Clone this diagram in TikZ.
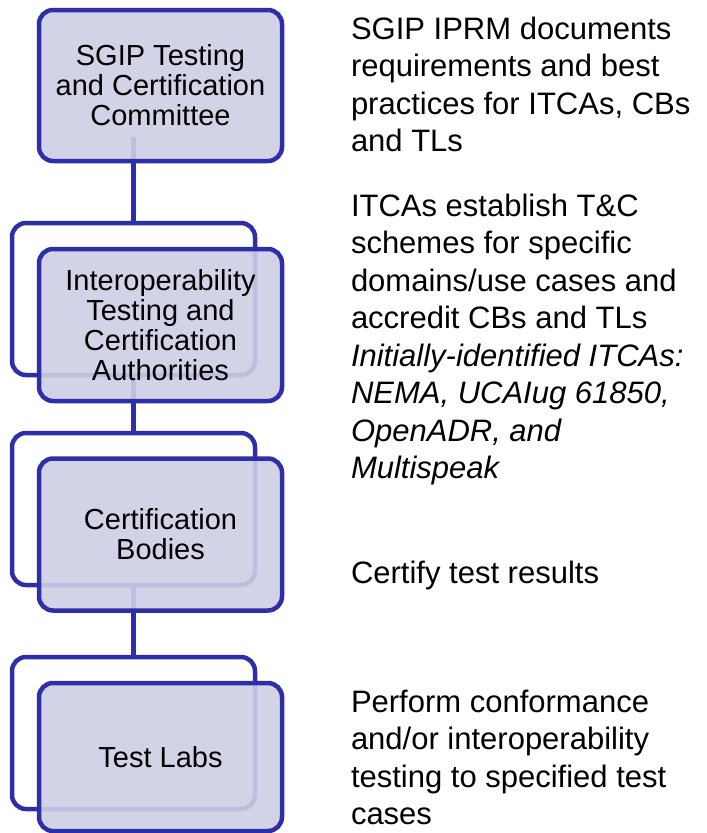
\documentclass[tikz,border=0pt]{standalone}
\usepackage{fontspec}
\setmainfont{Liberation Sans}
\definecolor{boxblue}{RGB}{46,46,168}
\definecolor{boxfill}{RGB}{206,206,230}
\begin{document}
\begin{tikzpicture}[x=1pt,y=-1pt,
  backbox/.style={draw=boxblue, line width=4.5pt, rounded corners=14pt,
    minimum width=243pt, minimum height=152pt, inner sep=0pt, outer sep=0pt},
  frontbox/.style={backbox, fill=boxfill, fill opacity=0.9, text opacity=1,
    align=center, font=\fontsize{29}{30}\selectfont},
  link/.style={draw=boxblue, line width=4.5pt},
  desc/.style={anchor=base west, inner sep=0pt, outer sep=0pt,
    font=\fontsize{31}{37.5}\selectfont}]
\useasboundingbox (0,0) rectangle (707,833);
% connectors and back frames
\coordinate (c1) at (133.5,137);
\node[backbox] (b2) at (133.5,299) {};
\node[backbox] (b3) at (133.5,509) {};
\node[backbox] (b4) at (133.5,733) {};
\draw[link] (c1) -- (b2.north);
\draw[link] (b2.south) -- (b3.north);
\draw[link] (b3.south) -- (b4.north);
% front boxes
\node[frontbox, minimum height=151pt] (f1) at (160.5,85.5) {SGIP Testing\\and Certification\\Committee};
\node[frontbox] (f2) at (160.5,325) {Interoperability\\Testing and\\Certification\\Authorities};
\node[frontbox] (f3) at (160.5,534.5) {Certification\\Bodies};
\node[frontbox, minimum height=148pt] (f4) at (160.5,757) {Test Labs};
% descriptions
\node[desc] (d1) at (351,39) {\parbox[t]{356pt}{\raggedright SGIP IPRM documents\\requirements and best\\practices for ITCAs, CBs\\and TLs}};
\node[desc] (d2) at (351,216) {\parbox[t]{356pt}{\raggedright ITCAs establish T\&C\\schemes for specific\\domains/use cases and\\accredit CBs and TLs\\\textit{Initially-identified ITCAs:}\\\textit{NEMA, UCAIug 61850,}\\\textit{OpenADR, and}\\\textit{Multispeak}}};
\node[desc] (d3) at (351,583) {\parbox[t]{356pt}{\raggedright Certify test results}};
\node[desc] (d4) at (351,712) {\parbox[t]{356pt}{\raggedright Perform conformance\\and/or interoperability\\testing to specified test\\cases}};
\end{tikzpicture}
\end{document}
